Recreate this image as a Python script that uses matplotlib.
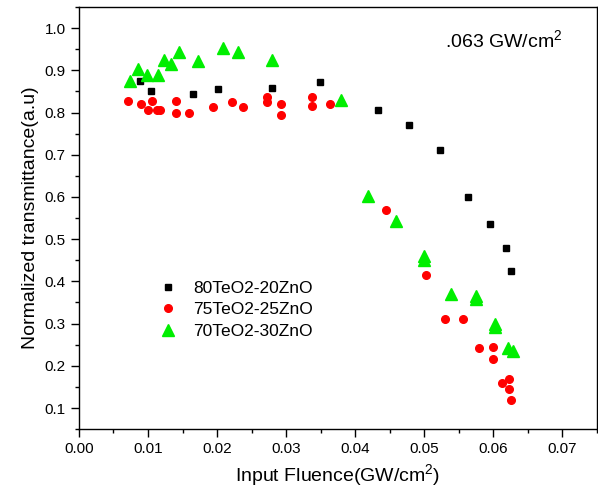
import matplotlib
matplotlib.use("Agg")
import matplotlib.pyplot as plt

plt.rcParams['font.family'] = ['Liberation Sans', 'DejaVu Sans']
plt.rcParams['mathtext.fontset'] = 'custom'
plt.rcParams['mathtext.rm'] = 'Liberation Sans'
plt.rcParams['mathtext.it'] = 'Liberation Sans'

# 80TeO2-20ZnO
x80 = [0.0088, 0.0104, 0.0165, 0.0202, 0.0279, 0.0349, 0.0433, 0.0478,
       0.0523, 0.0563, 0.0596, 0.0619, 0.0626]
y80 = [0.874, 0.852, 0.843, 0.855, 0.859, 0.873, 0.806, 0.770,
       0.712, 0.600, 0.536, 0.479, 0.425]

# 75TeO2-25ZnO
x75 = [0.0071, 0.0090, 0.0100, 0.0106, 0.0113, 0.0118, 0.0141, 0.0141,
       0.0160, 0.0194, 0.0221, 0.0237, 0.0273, 0.0273, 0.0293, 0.0293,
       0.0338, 0.0338, 0.0363, 0.0445, 0.0502, 0.0530, 0.0556, 0.0580,
       0.0599, 0.0599, 0.0613, 0.0623, 0.0623, 0.0626]
y75 = [0.828, 0.820, 0.806, 0.828, 0.806, 0.806, 0.828, 0.798,
       0.798, 0.813, 0.824, 0.813, 0.837, 0.824, 0.821, 0.795,
       0.837, 0.815, 0.821, 0.569, 0.415, 0.312, 0.312, 0.242,
       0.245, 0.216, 0.160, 0.169, 0.144, 0.120]

# 70TeO2-30ZnO
x70 = [0.0074, 0.0085, 0.0098, 0.0114, 0.0123, 0.0134, 0.0145, 0.0173,
       0.0209, 0.0230, 0.0280, 0.0380, 0.0419, 0.0459, 0.0500, 0.0500,
       0.0539, 0.0575, 0.0575, 0.0603, 0.0603, 0.0621, 0.0628]
y70 = [0.875, 0.904, 0.889, 0.889, 0.925, 0.914, 0.943, 0.922,
       0.953, 0.944, 0.924, 0.829, 0.603, 0.543, 0.459, 0.450,
       0.369, 0.366, 0.359, 0.300, 0.293, 0.243, 0.236]

fig = plt.figure(figsize=(5.98, 4.99), dpi=100)
ax = fig.add_axes([0.132, 0.140, 0.866, 0.846])

ax.plot(x80, y80, linestyle='none', marker='s', color='black', markersize=4.5, label='80TeO2-20ZnO')
ax.plot(x75, y75, linestyle='none', marker='o', color='red', markersize=5.5, label='75TeO2-25ZnO')
ax.plot(x70, y70, linestyle='none', marker='^', color='#00ee00', markersize=8, label='70TeO2-30ZnO')

ax.set_xlim(0.0, 0.075)
ax.set_ylim(0.05, 1.05)
ax.set_xticks([0.00, 0.01, 0.02, 0.03, 0.04, 0.05, 0.06, 0.07])
ax.set_xticks([0.005, 0.015, 0.025, 0.035, 0.045, 0.055, 0.065, 0.075], minor=True)
ax.set_yticks([0.1, 0.2, 0.3, 0.4, 0.5, 0.6, 0.7, 0.8, 0.9, 1.0])
ax.set_yticks([0.05, 0.15, 0.25, 0.35, 0.45, 0.55, 0.65, 0.75, 0.85, 0.95, 1.05], minor=True)
ax.xaxis.set_major_formatter(matplotlib.ticker.FormatStrFormatter('%.2f'))
ax.yaxis.set_major_formatter(matplotlib.ticker.FormatStrFormatter('%.1f'))
ax.tick_params(which='major', direction='out', length=6, width=1, labelsize=11)
ax.tick_params(which='minor', direction='out', length=3, width=1)
for s in ax.spines.values():
    s.set_linewidth(1)

ax.set_xlabel(r'Input Fluence(GW/cm$^2$)', fontsize=14)
ax.set_ylabel('Normalized transmittance(a.u)', fontsize=14)

ax.text(0.0530, 0.972, r'.063 GW/cm$^2$', fontsize=14, va='center')

ax.legend(loc='upper left', bbox_to_anchor=(0.126, 0.368), frameon=False,
          fontsize=12.5, handletextpad=0.4, labelspacing=0.36, borderaxespad=0)

fig.savefig('out.png', dpi=100)
